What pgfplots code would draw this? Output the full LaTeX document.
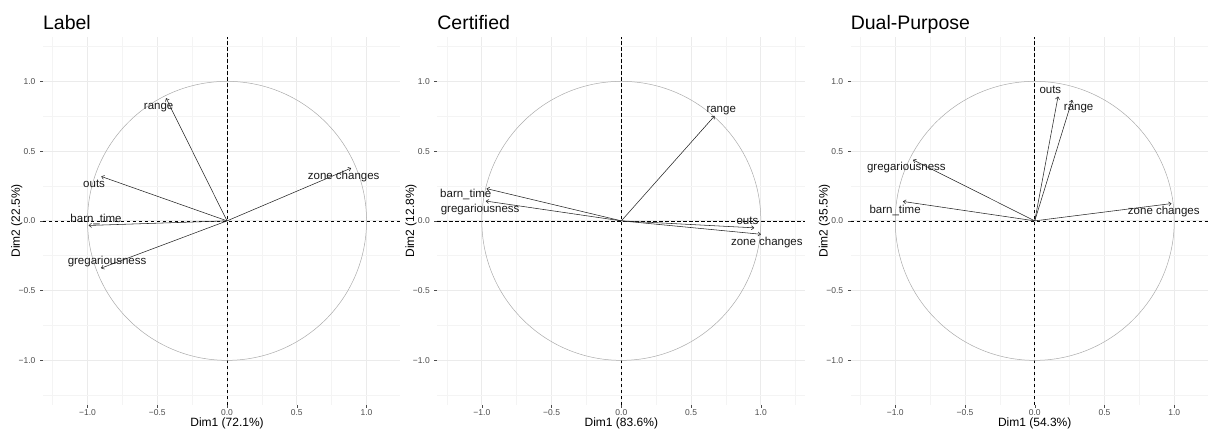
\documentclass[border=0pt]{standalone}
\usepackage{fontspec}
\setmainfont{Liberation Sans}
\usepackage{pgfplots}
\pgfplotsset{compat=1.18}
\usetikzlibrary{arrows.meta}
\definecolor{tickgray}{HTML}{4D4D4D}
\definecolor{gridmaj}{HTML}{EBEBEB}
\definecolor{gridmin}{HTML}{F4F4F4}
\definecolor{circ}{HTML}{ABABAB}
\tikzset{
vl/.style={font=\fontsize{11.5}{13}\selectfont, text=black!90, inner sep=0pt, anchor=center, text height=1.5ex, text depth=.25ex},
ttl/.style={font=\fontsize{19.5}{22}\selectfont, anchor=base west, inner sep=0pt},
xl/.style={font=\fontsize{12}{14}\selectfont, anchor=base, inner sep=0pt},
yl/.style={font=\fontsize{12}{14}\selectfont, anchor=center, inner sep=0pt},
}
\pgfplotsset{pcaaxis/.style={
  anchor=south west, x=139.5pt, y=139.5pt,
  ymin=-1.32, ymax=1.32,
  axis x line*=bottom, axis y line*=left, axis line style={draw=none},
  xtick={-1,-0.5,0,0.5,1}, ytick={-1,-0.5,0,0.5,1},
  minor xtick={-1.25,-0.75,-0.25,0.25,0.75,1.25},
  minor ytick={-1.25,-0.75,-0.25,0.25,0.75,1.25},
  xticklabels={−1.0,−0.5,0.0,0.5,1.0},
  yticklabels={−1.0,−0.5,0.0,0.5,1.0},
  grid=both,
  major grid style={draw=gridmaj, line width=0.8pt},
  minor grid style={draw=gridmin, line width=0.5pt},
  tick align=outside, major tick length=2.75pt, minor tick length=0pt,
  major tick style={draw=tickgray, line width=0.5pt},
  ticklabel style={font=\fontsize{8.5}{9}\selectfont, text=tickgray, inner sep=0pt},
  xticklabel style={anchor=north, yshift=-2pt},
  yticklabel style={anchor=east, xshift=-4.5pt},
  clip=false,
},
arr/.style={black!85, line width=0.55pt, -{To[length=3pt,width=4.5pt]}},
zl/.style={black, line width=0.55pt, dash pattern=on 3.5pt off 2.5pt},
}
\begin{document}
\begin{tikzpicture}
\useasboundingbox (0,0) rectangle (1208pt,429pt);
% ---------------- Panel 1: Label
\begin{axis}[pcaaxis, at={(42.9pt,24pt)}, xmin=-1.32, xmax=1.24]
\addplot[zl] coordinates {(-1.32,0) (1.24,0)};
\addplot[zl] coordinates {(0,-1.32) (0,1.32)};
\draw[circ, line width=0.5pt] (axis cs:0,0) circle[radius=1];
\addplot[arr] coordinates {(0,0) (-0.437,0.879)};
\addplot[arr] coordinates {(0,0) (0.889,0.378)};
\addplot[arr] coordinates {(0,0) (-0.901,0.318)};
\addplot[arr] coordinates {(0,0) (-0.992,-0.033)};
\addplot[arr] coordinates {(0,0) (-0.903,-0.339)};
\node[vl] at (axis cs:-0.49,0.824) {range};
\node[vl] at (axis cs:0.836,0.323) {zone changes};
\node[vl] at (axis cs:-0.953,0.263) {outs};
\node[vl] at (axis cs:-0.939,0.012) {barn\_time};
\node[vl] at (axis cs:-0.86,-0.292) {gregariousness};
\node[ttl, yshift=7.4pt] at (axis cs:-1.32,1.32) {Label};
\node[xl, yshift=-21pt] at (axis cs:0,-1.32) {Dim1 (72.1\%)};
\node[yl, xshift=-26.2pt, rotate=90] at (axis cs:-1.32,0) {Dim2 (22.5\%)};
\end{axis}
% ---------------- Panel 2: Certified
\begin{axis}[pcaaxis, at={(437.2pt,24pt)}, xmin=-1.32, xmax=1.32]
\addplot[zl] coordinates {(-1.32,0) (1.32,0)};
\addplot[zl] coordinates {(0,-1.32) (0,1.32)};
\draw[circ, line width=0.5pt] (axis cs:0,0) circle[radius=1];
\addplot[arr] coordinates {(0,0) (0.668,0.752)};
\addplot[arr] coordinates {(0,0) (-0.966,0.231)};
\addplot[arr] coordinates {(0,0) (-0.971,0.142)};
\addplot[arr] coordinates {(0,0) (0.952,-0.050)};
\addplot[arr] coordinates {(0,0) (1.0,-0.096)};
\node[vl] at (axis cs:0.716,0.80) {range};
\node[vl] at (axis cs:-1.115,0.192) {barn\_time};
\node[vl] at (axis cs:-1.012,0.084) {gregariousness};
\node[vl] at (axis cs:0.904,-0.002) {outs};
\node[vl] at (axis cs:1.043,-0.151) {zone changes};
\node[ttl, yshift=7.4pt] at (axis cs:-1.32,1.32) {Certified};
\node[xl, yshift=-21pt] at (axis cs:0,-1.32) {Dim1 (83.6\%)};
\node[yl, xshift=-26.2pt, rotate=90] at (axis cs:-1.32,0) {Dim2 (12.8\%)};
\end{axis}
% ---------------- Panel 3: Dual-Purpose
\begin{axis}[pcaaxis, at={(850.6pt,24pt)}, xmin=-1.32, xmax=1.24]
\addplot[zl] coordinates {(-1.32,0) (1.24,0)};
\addplot[zl] coordinates {(0,-1.32) (0,1.32)};
\draw[circ, line width=0.5pt] (axis cs:0,0) circle[radius=1];
\addplot[arr] coordinates {(0,0) (0.167,0.891)};
\addplot[arr] coordinates {(0,0) (0.268,0.867)};
\addplot[arr] coordinates {(0,0) (-0.872,0.437)};
\addplot[arr] coordinates {(0,0) (-0.944,0.139)};
\addplot[arr] coordinates {(0,0) (0.980,0.124)};
\node[vl] at (axis cs:0.112,0.939) {outs};
\node[vl] at (axis cs:0.315,0.815) {range};
\node[vl] at (axis cs:-0.92,0.382) {gregariousness};
\node[vl] at (axis cs:-1.001,0.079) {barn\_time};
\node[vl] at (axis cs:0.925,0.072) {zone changes};
\node[ttl, yshift=7.4pt] at (axis cs:-1.32,1.32) {Dual-Purpose};
\node[xl, yshift=-21pt] at (axis cs:0,-1.32) {Dim1 (54.3\%)};
\node[yl, xshift=-26.2pt, rotate=90] at (axis cs:-1.32,0) {Dim2 (35.5\%)};
\end{axis}
\end{tikzpicture}
\end{document}
